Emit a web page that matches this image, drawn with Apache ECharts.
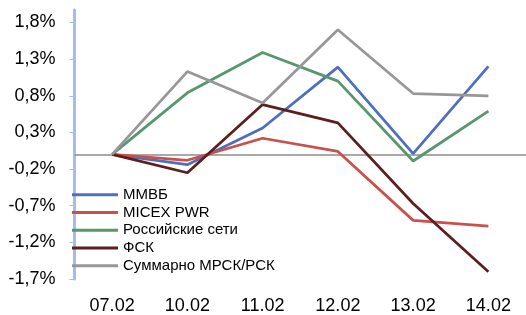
<!DOCTYPE html>
<html>
<head>
<meta charset="utf-8">
<script src="https://cdn.jsdelivr.net/npm/echarts@6/dist/echarts.min.js"></script>
<style>
  html, body { margin: 0; padding: 0; background: #fff; }
  #chart { width: 526px; height: 315px; }
</style>
</head>
<body>
<div id="chart"></div>
<script>
// dates on the x axis
var categories = ['07.02', '10.02', '11.02', '12.02', '13.02', '14.02']
// change, %
var mmvb = [0, -0.14, 0.36, 1.19, 0.01, 1.2]
var micexPwr = [0, -0.08, 0.22, 0.04, -0.9, -0.98]
var rosSeti = [0, 0.84, 1.39, 1.0, -0.09, 0.59]
var fsk = [0, -0.25, 0.68, 0.43, -0.67, -1.6]
var mrsk = [0, 1.13, 0.7, 1.7, 0.83, 0.8]
// y axis tick values
var yTicks = [-1.7, -1.2, -0.7, -0.2, 0.3, 0.8, 1.3, 1.8]

var font = 'Liberation Sans, Arial, sans-serif'

function line(name, data, color, width) {
  return {
    name: name,
    type: 'line',
    data: data,
    symbol: 'none',
    silent: true,
    lineStyle: { color: color, width: width },
    itemStyle: { color: color }
  }
}

var chart = echarts.init(document.getElementById('chart'))
var series = [
  line('ММВБ', mmvb, '#4d6fbe', 2.75),
  line('MICEX PWR', micexPwr, '#c9504d', 2.75),
  line('Российские сети', rosSeti, '#58966e', 2.75),
  line('ФСК', fsk, '#5f1e1e', 2.75),
  line('Суммарно МРСК/РСК', mrsk, '#979797', 2.75)
]
// zero line across the plot
series[0].markLine = {
  silent: true,
  symbol: 'none',
  label: { show: false },
  lineStyle: { color: '#8c8c8c', width: 1.5, type: 'solid' },
  data: [{ yAxis: 0 }],
  z: 1
}

chart.setOption({
  animation: false,
  grid: { left: 74.5, top: 10, width: 455, height: 271 },
  legend: {
    orient: 'vertical',
    left: 67,
    top: 181,
    icon: 'rect',
    itemWidth: 46,
    itemHeight: 3,
    itemGap: 0,
    textStyle: { fontFamily: font, fontSize: 15, color: '#000', lineHeight: 17.7 },
    data: series.map(function (s) { return s.name })
  },
  xAxis: {
    type: 'category',
    data: categories,
    boundaryGap: true,
    axisLine: { show: false },
    axisTick: { show: false },
    axisLabel: { fontFamily: font, fontSize: 18, color: '#000', margin: 18 }
  },
  yAxis: {
    type: 'value',
    min: -1.7,
    max: 1.97,
    splitLine: { show: false },
    axisLine: { show: true, lineStyle: { color: '#a3bfe9', width: 3 } },
    axisTick: { show: true, length: 5, customValues: yTicks, lineStyle: { color: '#a3bfe9', width: 1 } },
    axisLabel: {
      fontFamily: font,
      fontSize: 18,
      color: '#000',
      margin: 19,
      customValues: yTicks,
      formatter: function (v) { return v.toFixed(1).replace('.', ',') + '%' }
    }
  },
  series: series
})
</script>
</body>
</html>
